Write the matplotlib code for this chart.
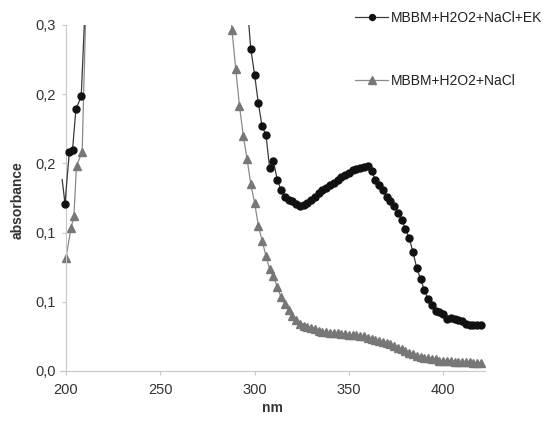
import numpy as np
import matplotlib
matplotlib.use("Agg")
import matplotlib.pyplot as plt
from matplotlib.ticker import FuncFormatter

plt.rcParams['font.family'] = ['Liberation Sans', 'DejaVu Sans']

# ---- data ----
label_ek = "MBBM+H2O2+NaCl+EK"
label_nacl = "MBBM+H2O2+NaCl"

ek_nm = [198, 199.5, 201.8, 203.5, 205.3, 208.1, 210,
         296, 298, 300, 302, 304, 306, 308, 310, 312, 314, 316, 318, 320,
         322, 324, 326, 328, 330, 332, 334, 336, 338, 340, 342, 344, 346,
         348, 350, 352, 354, 356, 358, 360, 362, 364, 366, 368, 370, 372,
         374, 376, 378, 380, 382, 384, 386, 388, 390, 392, 394, 396, 398,
         400, 402, 404, 406, 408, 410, 412, 414, 416, 418, 420]
ek_abs = [0.166, 0.145, 0.190, 0.192, 0.227, 0.238, 0.31,
          0.32, 0.279, 0.257, 0.232, 0.212, 0.205, 0.176, 0.182, 0.166, 0.157, 0.151, 0.148, 0.147,
          0.145, 0.143, 0.144, 0.146, 0.148, 0.151, 0.154, 0.157, 0.159, 0.161, 0.163, 0.166, 0.168,
          0.170, 0.172, 0.174, 0.175, 0.176, 0.177, 0.178, 0.173, 0.166, 0.161, 0.157, 0.151, 0.147,
          0.143, 0.137, 0.131, 0.123, 0.115, 0.103, 0.089, 0.080, 0.070, 0.062, 0.057, 0.052, 0.051,
          0.049, 0.045, 0.046, 0.045, 0.044, 0.043, 0.041, 0.040, 0.040, 0.040, 0.040]

nacl_nm = [200.0, 202.7, 204.2, 205.6, 208.6, 210.5,
           287, 288, 290, 292, 294, 296, 298, 300, 302, 304, 306, 308, 310, 312,
           314, 316, 318, 320, 322, 324, 326, 328, 330, 332, 334, 336, 338, 340,
           342, 344, 346, 348, 350, 352, 354, 356, 358, 360, 362, 364, 366, 368,
           370, 372, 374, 376, 378, 380, 382, 384, 386, 388, 390, 392, 394, 396,
           398, 400, 402, 404, 406, 408, 410, 412, 414, 416, 418, 420]
nacl_abs = [0.098, 0.124, 0.134, 0.178, 0.190, 0.31,
            0.32, 0.296, 0.262, 0.230, 0.204, 0.184, 0.162, 0.146, 0.126, 0.113, 0.100, 0.088, 0.082, 0.073,
            0.064, 0.058, 0.053, 0.048, 0.044, 0.041, 0.039, 0.038, 0.037, 0.036, 0.035, 0.034, 0.034, 0.033,
            0.033, 0.033, 0.032, 0.032, 0.031, 0.031, 0.031, 0.030, 0.030, 0.029, 0.028, 0.027, 0.026, 0.025,
            0.024, 0.023, 0.022, 0.020, 0.019, 0.017, 0.016, 0.015, 0.013, 0.012, 0.011, 0.011, 0.010, 0.010,
            0.009, 0.009, 0.009, 0.009, 0.008, 0.008, 0.008, 0.008, 0.008, 0.007, 0.007, 0.007]

x_ticks = [200, 250, 300, 350, 400]
y_ticks = [0.0, 0.06, 0.12, 0.18, 0.24, 0.30]

# ---- figure ----
fig = plt.figure(figsize=(5.51, 4.25), dpi=100)
ax = fig.add_axes([0.1094, 0.1271, 0.7703, 0.8141])

ek_marks = list(range(1, len(ek_nm)))
ax.plot(ek_nm, ek_abs, color='#3a3a3a', lw=0.9, marker='o', markersize=5.0,
        markerfacecolor='#111111', markeredgecolor='#111111', markevery=ek_marks,
        label=label_ek, zorder=3)
ax.plot(nacl_nm, nacl_abs, color='#8a8a8a', lw=0.9, marker='^', markersize=6.2,
        markerfacecolor='#777777', markeredgecolor='#777777',
        label=label_nacl, zorder=2)

ax.set_xlim(197, 422)
ax.set_ylim(0, 0.3)
ax.spines['left'].set_position(('data', 200))
for s in ['top', 'right']:
    ax.spines[s].set_visible(False)
for s in ['left', 'bottom']:
    ax.spines[s].set_color('#c8c8c8')
    ax.spines[s].set_linewidth(0.8)

ax.set_xticks(x_ticks)
ax.set_yticks(y_ticks)
ax.yaxis.set_major_formatter(FuncFormatter(lambda v, p: f"{v:.1f}".replace('.', ',')))
ax.tick_params(axis='both', colors='#c8c8c8', labelcolor='#333333', labelsize=10.5,
               length=3, width=0.8, direction='out')
ax.tick_params(axis='y', pad=4)
ax.tick_params(axis='x', pad=6)

fig.text(272 / 551, 1 - 408 / 425, 'nm', ha='center', va='center', fontsize=10,
         fontweight='bold', color='#333333')
fig.text(18 / 551, 1 - 200 / 425, 'absorbance', ha='center', va='center', fontsize=10,
         fontweight='bold', color='#333333', rotation=90)

leg = fig.legend(loc='upper left', bbox_to_anchor=(355 / 551, 1 - 11 / 425),
                 frameon=False, fontsize=10, handlelength=2.4, handletextpad=0.15,
                 labelspacing=3.55, borderpad=0, borderaxespad=0, labelcolor='#222222',
                 markerscale=0.85)

fig.savefig('out.png', dpi=100)
